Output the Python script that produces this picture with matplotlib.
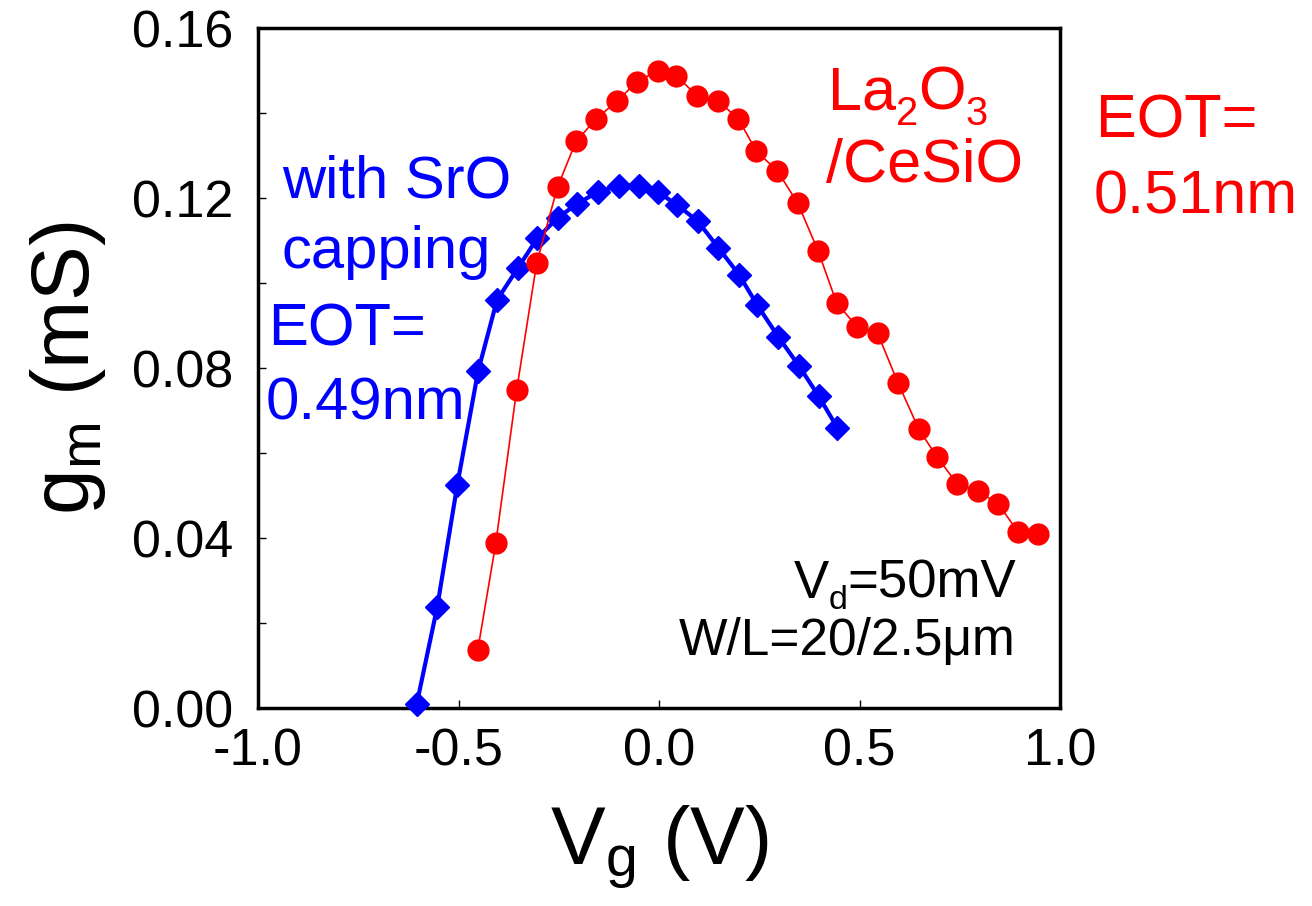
import matplotlib
matplotlib.use("Agg")
import matplotlib.pyplot as plt
from matplotlib.ticker import MultipleLocator, FormatStrFormatter

plt.rcParams['font.family'] = ['Liberation Sans', 'DejaVu Sans']
plt.rcParams['mathtext.fontset'] = 'custom'
plt.rcParams['mathtext.rm'] = 'Liberation Sans'
plt.rcParams['mathtext.it'] = 'Liberation Sans'

# La2O3/CeSiO gate stack (red circles)
vg_red = [-0.452, -0.407, -0.355, -0.305, -0.253, -0.207, -0.157, -0.105, -0.055,
          -0.003, 0.043, 0.094, 0.147, 0.198, 0.243, 0.295, 0.346, 0.397, 0.443,
          0.494, 0.545, 0.596, 0.648, 0.693, 0.744, 0.795, 0.846, 0.895, 0.945]
gm_red = [0.0136, 0.0388, 0.0748, 0.1047, 0.1226, 0.1333, 0.1386, 0.1428, 0.1473,
          0.1500, 0.1488, 0.1441, 0.1429, 0.1386, 0.1310, 0.1264, 0.1188, 0.1075,
          0.0953, 0.0897, 0.0882, 0.0765, 0.0656, 0.0591, 0.0527, 0.0511, 0.0480,
          0.0415, 0.0409]

# with SrO capping (blue diamonds)
vg_blue = [-0.604, -0.553, -0.503, -0.451, -0.404, -0.352, -0.303, -0.253, -0.205,
           -0.153, -0.100, -0.051, -0.003, 0.045, 0.097, 0.148, 0.200, 0.245,
           0.297, 0.349, 0.398, 0.445]
gm_blue = [0.0010, 0.0238, 0.0525, 0.0793, 0.0960, 0.1035, 0.1106, 0.1153, 0.1186,
           0.1214, 0.1229, 0.1229, 0.1214, 0.1184, 0.1145, 0.1083, 0.1019, 0.0948,
           0.0874, 0.0805, 0.0734, 0.0659]

W, H = 1312, 906
fig = plt.figure(figsize=(W / 100, H / 100), dpi=100)
ax = fig.add_axes([258 / W, 1 - 708 / H, (1060 - 258) / W, (708 - 28) / H])

ax.plot(vg_blue, gm_blue, color='#0000ff', lw=3, marker='D', ms=12.5,
        mec='#0000ff', mfc='#0000ff', clip_on=False, zorder=3)
ax.plot(vg_red, gm_red, color='#ff0000', lw=1.2, marker='o', ms=16,
        mec='none', mfc='#ff0000', clip_on=False, zorder=4)

ax.set_xlim(-1.0, 1.0)
ax.set_ylim(0, 0.16)
ax.xaxis.set_major_locator(MultipleLocator(0.5))
ax.xaxis.set_major_formatter(FormatStrFormatter('%.1f'))
ax.yaxis.set_major_locator(MultipleLocator(0.04))
ax.yaxis.set_minor_locator(MultipleLocator(0.02))
ax.yaxis.set_major_formatter(FormatStrFormatter('%.2f'))
ax.tick_params(which='both', direction='in', length=6, width=1, labelsize=37.5)
ax.tick_params(axis='y', pad=18)
ax.tick_params(axis='x', pad=14)
for s in ax.spines.values():
    s.set_linewidth(2.5)

ax.set_xlabel(r'$\mathregular{V_g}$ (V)', fontsize=59, labelpad=20)
ax.set_ylabel(r'$\mathregular{g_m}$ (mS)', fontsize=59, labelpad=17)

def put(x, y, s, **kw):
    fig.text(x / W, 1 - y / H, s, va='baseline', **kw)

# text with lowered subscripts, built piece by piece
def put_runs(x, y, runs, size, color, ha='left', drop_frac=0.25):
    r = fig.canvas.get_renderer()
    items = []
    cx = 0
    for s, sub in runs:
        fs = size * 0.65 if sub else size
        t = fig.text(0, 0, s, fontsize=fs, color=color, va='baseline')
        w = t.get_window_extent(r).width
        drop = size * drop_frac * 100 / 72 if sub else 0
        items.append((t, cx, drop))
        cx += w
    x0 = x - cx if ha == 'right' else x
    for t, off, drop in items:
        t.set_position(((x0 + off) / W, 1 - (y + drop) / H))

put(282, 198, 'with SrO', color='#0000ff', fontsize=43)
put(282, 268, 'capping', color='#0000ff', fontsize=43)
put(268, 345, 'EOT=', color='#0000ff', fontsize=43)
put(266, 420, '0.49nm', color='#0000ff', fontsize=43)

put_runs(828, 110, [('La', 0), ('2', 1), ('O', 0), ('3', 1)], 44, '#ff0000')
put(826, 182, '/CeSiO', color='#ff0000', fontsize=44)
put(1096, 137, 'EOT=', color='#ff0000', fontsize=44)
put(1094, 213, '0.51nm', color='#ff0000', fontsize=44)

put_runs(1016, 598, [('V', 0), ('d', 1), ('=50mV', 0)], 38, 'black',
         ha='right', drop_frac=0.2)
put(1016, 655, 'W/L=20/2.5μm', color='black', fontsize=37, ha='right')

fig.savefig('out.png', dpi=100)
